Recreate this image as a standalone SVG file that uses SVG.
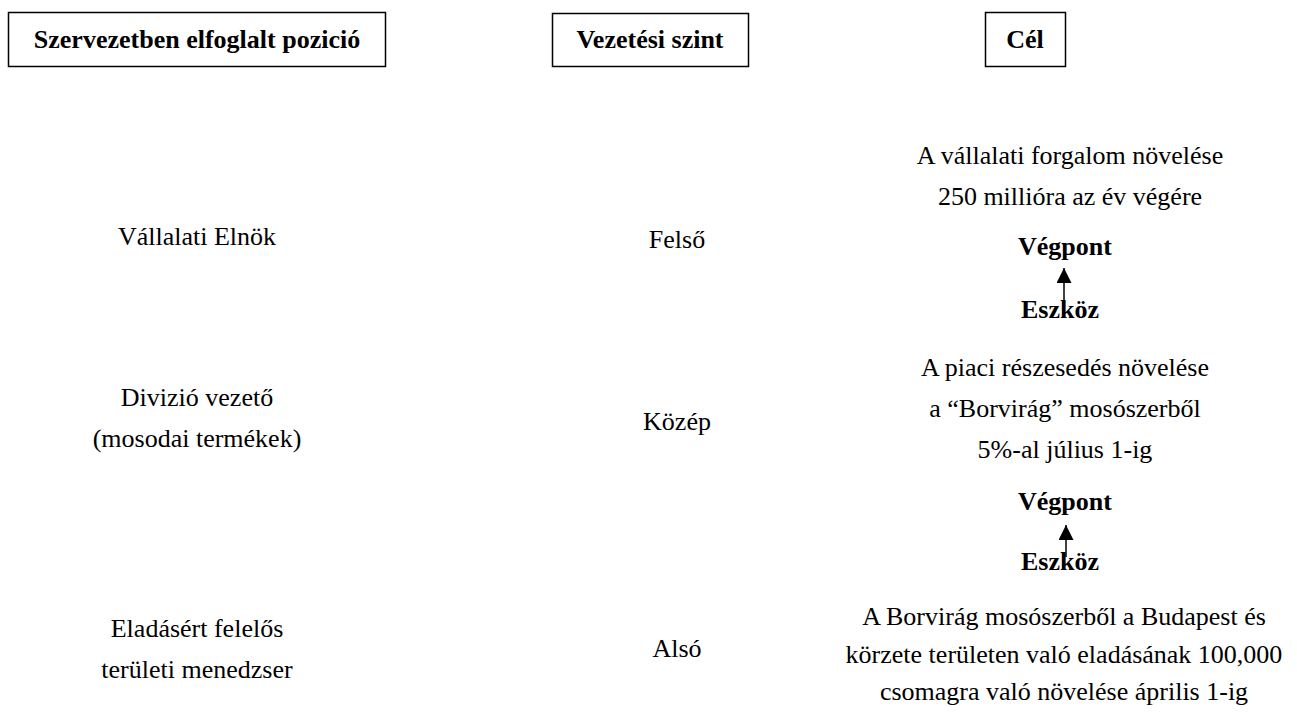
<svg xmlns="http://www.w3.org/2000/svg" width="1297" height="724" viewBox="0 0 1297 724">
  <defs>
    <style>
      .hdr { fill: #fff; stroke: #000; stroke-width: 1.5; }
      .conn { stroke: #000; stroke-width: 1.5; fill: none; }
    </style>
    <!-- filled triangular head, drawn along +x so orient="auto" follows the line -->
    <marker id="arrowhead" markerWidth="16" markerHeight="16" refX="15" refY="7.5" orient="auto" markerUnits="userSpaceOnUse" viewBox="0 0 16 16">
      <path d="M0,0 L15,7.5 L0,15 Z" fill="#000"/>
    </marker>
  </defs>

  <g font-family="'Liberation Serif', serif" font-size="26" fill="#000" text-anchor="middle">
    <!-- column headers -->
    <g id="hdr-position" font-weight="bold">
      <rect class="hdr" x="8.5" y="12.5" width="377" height="54"/>
      <text x="197" y="48">Szervezetben elfoglalt pozició</text>
    </g>
    <g id="hdr-level" font-weight="bold">
      <rect class="hdr" x="552.5" y="13.5" width="196" height="53"/>
      <text x="650" y="48">Vezetési szint</text>
    </g>
    <g id="hdr-goal" font-weight="bold">
      <rect class="hdr" x="985.5" y="12.5" width="80" height="54"/>
      <text x="1025" y="48">Cél</text>
    </g>

    <!-- positions -->
    <g id="pos-president">
      <text x="197" y="245">Vállalati Elnök</text>
    </g>
    <g id="pos-division">
      <text x="197" y="406">Divizió vezető</text>
      <text x="197" y="447">(mosodai termékek)</text>
    </g>
    <g id="pos-sales">
      <text x="197" y="637">Eladásért felelős</text>
      <text x="197" y="678">területi menedzser</text>
    </g>

    <!-- levels -->
    <g id="lvl-top"><text x="677" y="248">Felső</text></g>
    <g id="lvl-mid"><text x="677" y="430">Közép</text></g>
    <g id="lvl-low"><text x="677" y="657">Alsó</text></g>

    <!-- goals -->
    <g id="goal-top">
      <text x="1070" y="164">A vállalati forgalom növelése</text>
      <text x="1070" y="205">250 millióra az év végére</text>
    </g>
    <g id="end-1" font-weight="bold"><text x="1065" y="255">Végpont</text></g>
    <g id="means-1" font-weight="bold"><text x="1060" y="318">Eszköz</text></g>
    <g id="goal-mid">
      <text x="1065" y="376">A piaci részesedés növelése</text>
      <text x="1065" y="417">a “Borvirág” mosószerből</text>
      <text x="1065" y="458">5%-al július 1-ig</text>
    </g>
    <g id="end-2" font-weight="bold"><text x="1065" y="510">Végpont</text></g>
    <g id="means-2" font-weight="bold"><text x="1060" y="570">Eszköz</text></g>
    <g id="goal-low">
      <text x="1064" y="625">A Borvirág mosószerből a Budapest és</text>
      <text x="1064" y="663">körzete területen való eladásának 100,000</text>
      <text x="1064" y="700">csomagra való növelése április 1-ig</text>
    </g>
  </g>

  <!-- connectors: means point up to end -->
  <g id="connectors">
    <line class="conn" x1="1064" y1="301" x2="1064" y2="268" marker-end="url(#arrowhead)"/>
    <line class="conn" x1="1066" y1="557" x2="1066" y2="525" marker-end="url(#arrowhead)"/>
  </g>
</svg>
